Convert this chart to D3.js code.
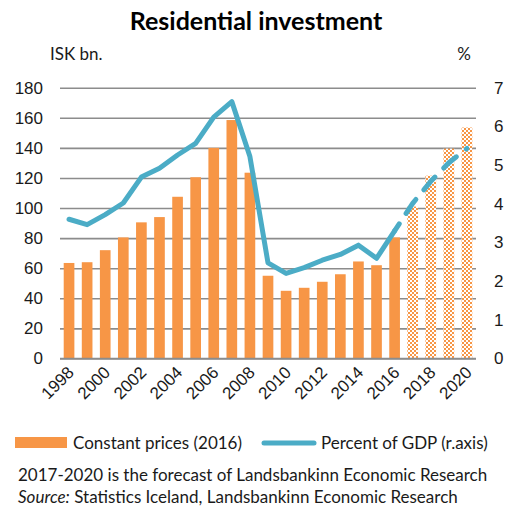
<!DOCTYPE html>
<html>
<head>
<meta charset="utf-8">
<script src="https://cdn.jsdelivr.net/npm/d3@7/dist/d3.min.js"></script>
<style>
  html, body { margin: 0; padding: 0; background: #fff; }
  svg { display: block; font-family: Lato, "Open Sans", sans-serif; }
</style>
</head>
<body>
<svg id="chart" width="511" height="510"></svg>
<script>
// Residential investment, ISK bn. at constant 2016 prices, and share of GDP
const years = d3.range(1998, 2021);
const constantPrices = [63.5, 64, 72, 80.5, 90.5, 94, 107.5, 120.5, 140, 158.5, 123.5, 55,
                        45, 47, 51, 56, 64.5, 62, 80.5, 101, 121.5, 139.5, 153.5];
const percentOfGDP = [3.60, 3.46, 3.72, 4.02, 4.69, 4.92, 5.26, 5.56, 6.24, 6.64, 5.22, 2.47,
                      2.20, 2.35, 2.54, 2.69, 2.93, 2.59, 3.30, 4.01, 4.58, 5.06, 5.43];
const forecastFrom = 2017;
const leftTicks = [0, 20, 40, 60, 80, 100, 120, 140, 160, 180];
const rightTicks = [0, 1, 2, 3, 4, 5, 6, 7];
const yearLabels = d3.range(1998, 2021, 2);

const orange = "#F79646";
const blue = "#4BACC6";
const grid = "#8c8c8c";
const ink = "#1a1a1a";
const fs = 17;

const svg = d3.select("#chart");
const plot = { left: 60, right: 476, top: 87.7, bottom: 358.5 };

const x = d3.scaleBand().domain(years).range([plot.left, plot.right])
  .paddingInner(0.41).paddingOuter(0.205);
const yL = d3.scaleLinear().domain([0, 180]).range([plot.bottom, plot.top]);
const yR = d3.scaleLinear().domain([0, 7]).range([plot.bottom, plot.top]);
const cx = d => x(d) + x.bandwidth() / 2;

// checkered fill for forecast years
const defs = svg.append("defs");
const pat = defs.append("pattern").attr("id", "checker")
  .attr("patternUnits", "userSpaceOnUse").attr("width", 4).attr("height", 4);
pat.append("rect").attr("width", 4).attr("height", 4).attr("fill", "#fff");
pat.append("rect").attr("width", 2).attr("height", 2).attr("fill", orange);
pat.append("rect").attr("x", 2).attr("y", 2).attr("width", 2).attr("height", 2).attr("fill", orange);

// title
svg.append("text").attr("x", 256).attr("y", 30).attr("text-anchor", "middle")
  .attr("font-size", 25).attr("font-weight", 700).attr("fill", "#000")
  .text("Residential investment");

// unit labels
svg.append("text").attr("x", 50).attr("y", 60).attr("font-size", fs).attr("fill", ink).text("ISK bn.");
svg.append("text").attr("x", 471).attr("y", 60).attr("text-anchor", "end")
  .attr("font-size", fs).attr("fill", ink).text("%");

// gridlines and left axis
const leftAxis = d3.axisLeft(yL).tickValues(leftTicks).tickSize(-(plot.right - plot.left)).tickPadding(17);
const gL = svg.append("g").attr("transform", `translate(${plot.left},0)`).call(leftAxis);
gL.select(".domain").remove();
gL.selectAll(".tick line").attr("stroke", grid).attr("stroke-width", 1.6);
gL.selectAll(".tick text").attr("font-size", fs).attr("fill", ink).attr("font-family", null);

// right axis
const rightAxis = d3.axisRight(yR).tickValues(rightTicks).tickFormat(d3.format("d"))
  .tickSize(0).tickPadding(18);
const gR = svg.append("g").attr("transform", `translate(${plot.right},0)`).call(rightAxis);
gR.select(".domain").remove();
gR.selectAll(".tick text").attr("font-size", fs).attr("fill", ink).attr("font-family", null);

// bars
svg.append("g").selectAll("rect").data(years).join("rect")
  .attr("x", d => x(d))
  .attr("width", x.bandwidth())
  .attr("y", (d, i) => yL(constantPrices[i]))
  .attr("height", (d, i) => yL(0) - yL(constantPrices[i]))
  .attr("fill", d => d >= forecastFrom ? "url(#checker)" : orange);

// baseline
svg.append("line").attr("x1", plot.left).attr("x2", plot.right)
  .attr("y1", yL(0)).attr("y2", yL(0)).attr("stroke", grid).attr("stroke-width", 1.6);

// percent of GDP line: solid for actuals, dashed for forecast
const pts = years.map((yr, i) => ({ yr, v: percentOfGDP[i] }));
const line = d3.line().x(d => cx(d.yr)).y(d => yR(d.v));
svg.append("path").datum(pts.filter(d => d.yr <= forecastFrom - 1))
  .attr("d", line).attr("fill", "none").attr("stroke", blue)
  .attr("stroke-width", 5).attr("stroke-linejoin", "round").attr("stroke-linecap", "round");
const dashed = svg.append("path").datum(pts.filter(d => d.yr >= forecastFrom - 1))
  .attr("d", line).attr("fill", "none").attr("stroke", blue)
  .attr("stroke-width", 5).attr("stroke-linejoin", "round").attr("stroke-linecap", "round");
// align the dash pattern so a final short dash (a dot) lands on the last point
const dashLen = 17, gapLen = 12.5, period = dashLen + gapLen;
const total = dashed.node().getTotalLength();
const offset = period - ((total - 1) % period);
dashed.attr("stroke-dasharray", `${dashLen} ${gapLen}`).attr("stroke-dashoffset", offset);

// x axis year labels
const xAxis = d3.axisBottom(x).tickValues(yearLabels).tickSize(0).tickPadding(0);
const gX = svg.append("g").attr("transform", `translate(0,${plot.bottom})`).call(xAxis);
gX.select(".domain").remove();
gX.selectAll(".tick text")
  .attr("font-size", fs).attr("fill", ink).attr("font-family", null)
  .attr("text-anchor", "end").attr("dy", null).attr("y", 0)
  .attr("transform", "translate(6,15) rotate(-45)");

// legend
const leg = svg.append("g");
leg.append("rect").attr("x", 15).attr("y", 437).attr("width", 52).attr("height", 11).attr("fill", orange);
leg.append("text").attr("x", 73).attr("y", 449).attr("font-size", fs).attr("fill", ink).text("Constant prices (2016)");
leg.append("line").attr("x1", 264).attr("x2", 314).attr("y1", 443).attr("y2", 443)
  .attr("stroke", blue).attr("stroke-width", 5).attr("stroke-linecap", "round");
leg.append("text").attr("x", 321).attr("y", 449).attr("font-size", fs).attr("fill", ink).text("Percent of GDP (r.axis)");

// notes
svg.append("text").attr("x", 18).attr("y", 481).attr("font-size", fs).attr("fill", ink)
  .text("2017-2020 is the forecast of Landsbankinn Economic Research");
const src = svg.append("text").attr("x", 18).attr("y", 503).attr("font-size", fs).attr("fill", ink);
src.append("tspan").attr("font-style", "italic").text("Source:");
src.append("tspan").text(" Statistics Iceland, Landsbankinn Economic Research");
</script>
</body>
</html>
